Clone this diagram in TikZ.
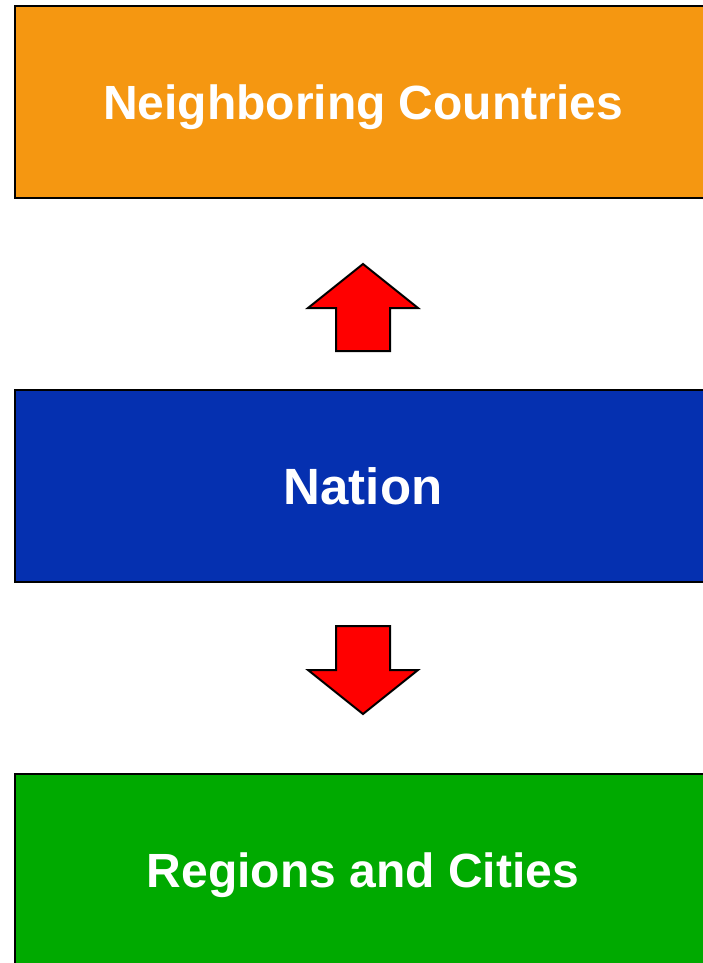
\documentclass[tikz,border=0pt]{standalone}
\usepackage{fontspec}
\setmainfont{Liberation Sans}
\usetikzlibrary{positioning,calc}
\definecolor{boxorange}{HTML}{F59711}
\definecolor{boxblue}{HTML}{0530B0}
\definecolor{boxgreen}{HTML}{00AA00}
\tikzset{
  level/.style={
    draw=black, line width=2.5pt, outer sep=0pt, inner sep=0pt,
    minimum width=696pt, minimum height=192pt, text depth=0pt,
    text=white, font=\fontsize{48}{56}\selectfont\bfseries
  },
  bigarrow/.style={draw=black, line width=2pt, fill=red, line join=miter}
}

\begin{document}
\begin{tikzpicture}[x=1pt,y=1pt]
  \useasboundingbox (0,0) rectangle (702,-963);

  \node[level, fill=boxorange] (neighbors) at (363,-102) {Neighboring Countries};
  \node[level, fill=boxblue, below=192pt of neighbors,
        font=\fontsize{51}{60}\selectfont\bfseries] (nation) {Nation};
  \node[level, fill=boxgreen, below=192pt of nation] (regions) {Regions and Cities};

  % up arrow between nation and neighbors
  \coordinate (upbase) at ($(nation.north)+(0,39)$);
  \draw[bigarrow] (upbase) ++(-27,0) -- ++(0,43) -- ++(-28,0) -- ++(55,44)
    -- ++(55,-44) -- ++(-28,0) -- ++(0,-43) -- cycle;

  % down arrow between nation and regions
  \coordinate (downtop) at ($(nation.south)+(0,-44)$);
  \draw[bigarrow] (downtop) ++(-27,0) -- ++(0,-44) -- ++(-28,0) -- ++(55,-44)
    -- ++(55,44) -- ++(-28,0) -- ++(0,44) -- cycle;
\end{tikzpicture}
\end{document}
